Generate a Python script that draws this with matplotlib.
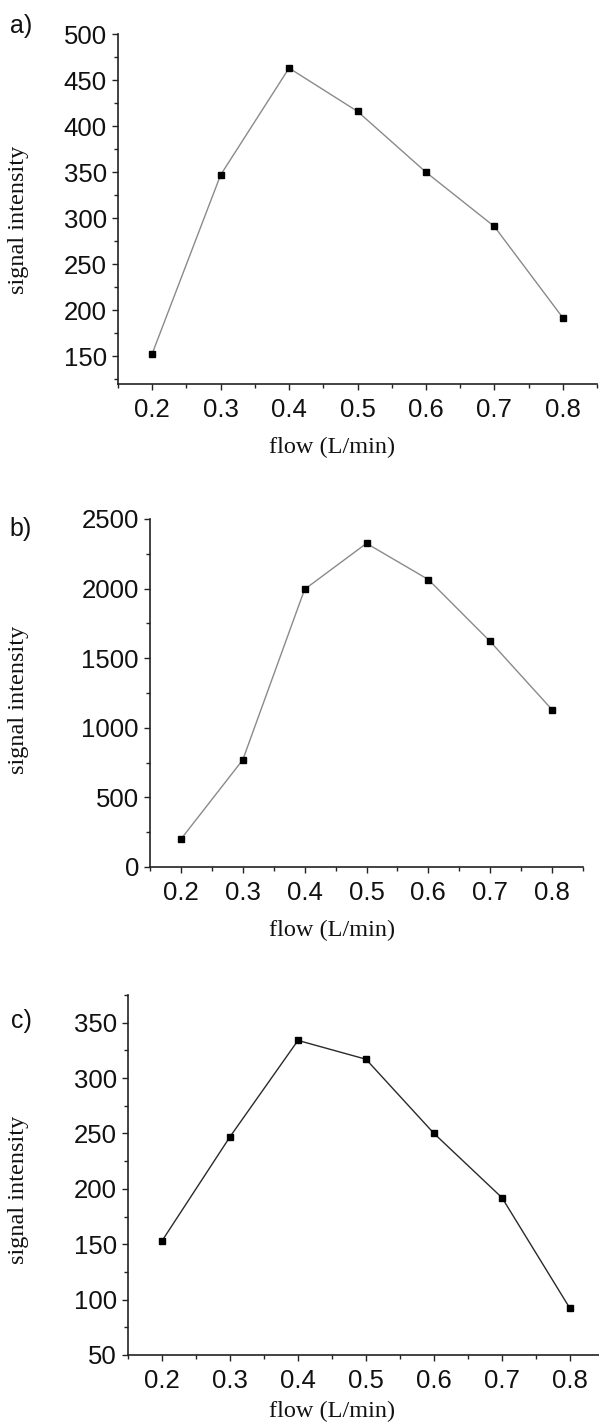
import matplotlib
matplotlib.use("Agg")
import matplotlib.pyplot as plt
from matplotlib.ticker import MultipleLocator

flow = [0.2, 0.3, 0.4, 0.5, 0.6, 0.7, 0.8]
signal_a = [153, 347, 463, 416, 350, 291, 192]
signal_b = [200, 770, 1995, 2325, 2065, 1620, 1130]
signal_c = [153, 247, 334, 317, 250, 192, 92]

panel_labels = ["a)", "b)", "c)"]
x_label = "flow (L/min)"
y_label = "signal intensity"

W, H = 599, 1423
fig = plt.figure(figsize=(W / 100, H / 100), dpi=100)

sans = ["Liberation Sans", "DejaVu Sans"]
serif = ["Liberation Serif", "DejaVu Serif"]

# (left, right, top, bottom) in pixels
boxes = [(118, 597, 34, 384), (150, 583, 519, 867), (128, 604, 995, 1355)]
ylims = [(120, 500), (0, 2500), (50, 375)]
ymajor = [50, 500, 50]
yminor = [25, 250, 25]
line_colors = ["#8a8a8a", "#8a8a8a", "#2a2a2a"]
series = [signal_a, signal_b, signal_c]
panel_pos = [(21, 26), (21, 529), (21, 1021)]
ylabel_pos = [(19, 220), (19, 700), (19, 1190)]
xlabel_pos = [(332, 447), (332, 930), (332, 1411)]

for i in range(3):
    l, r, t, b = boxes[i]
    ax = fig.add_axes([l / W, 1 - b / H, (r - l) / W, (b - t) / H])
    ax.plot(flow, series[i], color=line_colors[i], lw=1.0,
            marker="s", markersize=5.0, markerfacecolor="black",
            markeredgecolor="black", zorder=3, clip_on=False)
    ax.set_xlim(0.15, 0.85)
    ax.set_ylim(*ylims[i])
    ax.xaxis.set_major_locator(MultipleLocator(0.1))
    ax.xaxis.set_minor_locator(MultipleLocator(0.05))
    ax.yaxis.set_major_locator(MultipleLocator(ymajor[i]))
    ax.yaxis.set_minor_locator(MultipleLocator(yminor[i]))
    ax.set_xticks(flow)
    ax.set_xticklabels([f"{v:.1f}" for v in flow])
    for s in ["top", "right"]:
        ax.spines[s].set_visible(False)
    for s in ["left", "bottom"]:
        ax.spines[s].set_linewidth(1.2)
        ax.spines[s].set_color("#222222")
    ax.tick_params(which="major", direction="out", length=4.5, width=1.0,
                   color="#222222", labelsize=18.5, pad=3.5)
    ax.tick_params(axis="x", which="major", pad=5.5)
    ax.tick_params(which="minor", direction="out", length=3, width=1.0,
                   color="#222222")
    for lab in ax.get_xticklabels() + ax.get_yticklabels():
        lab.set_family(sans)
        lab.set_color("#111111")
    fig.text(panel_pos[i][0] / W, 1 - panel_pos[i][1] / H, panel_labels[i],
             family=sans, fontsize=18, ha="center", va="center", color="#111111")
    fig.text(ylabel_pos[i][0] / W, 1 - ylabel_pos[i][1] / H, y_label,
             family=serif, fontsize=17.5, rotation=90, ha="center", va="center",
             color="#111111")
    fig.text(xlabel_pos[i][0] / W, 1 - xlabel_pos[i][1] / H, x_label,
             family=serif, fontsize=17.5, ha="center", va="center", color="#111111")

fig.savefig("out.png", dpi=100)
